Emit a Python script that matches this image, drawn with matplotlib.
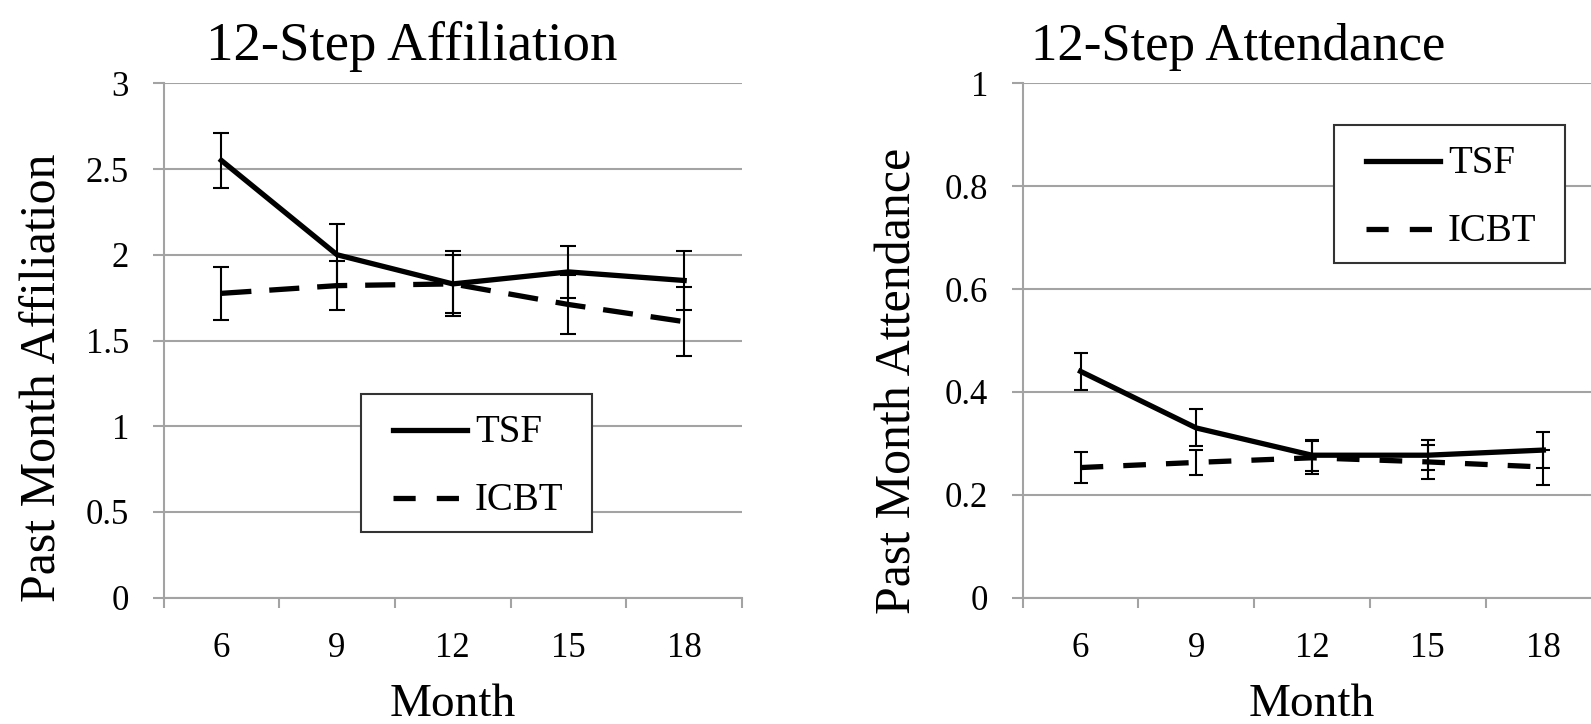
import matplotlib
matplotlib.use('Agg')
import numpy as np
import matplotlib.pyplot as plt
from matplotlib.lines import Line2D
from matplotlib.patches import Rectangle
from matplotlib.ticker import FixedLocator, NullFormatter

plt.rcParams['font.family'] = ['Liberation Serif', 'DejaVu Serif']

# data (month of follow-up)
months = ['6', '9', '12', '15', '18']

aff_tsf = [2.55, 2.00, 1.83, 1.90, 1.85]
aff_tsf_err = [0.16, 0.18, 0.17, 0.15, 0.17]
aff_icbt = [1.775, 1.82, 1.83, 1.71, 1.61]
aff_icbt_err = [0.155, 0.145, 0.19, 0.17, 0.20]

att_tsf = [0.44, 0.33, 0.277, 0.277, 0.287]
att_tsf_err = [0.036, 0.036, 0.030, 0.029, 0.035]
att_icbt = [0.253, 0.263, 0.272, 0.264, 0.254]
att_icbt_err = [0.030, 0.025, 0.032, 0.033, 0.034]

aff_ticks = [0, 0.5, 1, 1.5, 2, 2.5, 3]
aff_ticklabels = ['0', '0.5', '1', '1.5', '2', '2.5', '3']
att_ticks = [0, 0.2, 0.4, 0.6, 0.8, 1]
att_ticklabels = ['0', '0.2', '0.4', '0.6', '0.8', '1']

W, H = 1591, 724
grid_c = '#a3a3a3'
lw_line = 3.8

fig = plt.figure(figsize=(W / 100, H / 100), dpi=100)


def px(x, y):
    # pixel position (top-left origin) -> figure fraction
    return x / W, 1 - y / H


def draw_key(x0, y0):
    # boxed key like the Excel one
    fig.add_artist(Rectangle(px(x0, y0 + 138), 231 / W, 138 / H, transform=fig.transFigure,
                             facecolor='white', edgecolor='#333333', lw=1.5, zorder=5))
    rows = [('TSF', '-', 36), ('ICBT', (0, (4.2, 4.0)), 104)]
    for lab, ls, dy in rows:
        yy = y0 + dy
        fig.add_artist(Line2D([(x0 + 32) / W, (x0 + 106) / W], [1 - yy / H] * 2,
                              transform=fig.transFigure, color='k', lw=lw_line, ls=ls, zorder=6))
        fig.text((x0 + 114) / W, 1 - (yy + 12) / H, lab, fontsize=28, va='baseline', zorder=6)


panels = [
    dict(left=163.5, title='12-Step Affiliation', title_x=412, title_fs=39.5,
         ylabel='Past Month Affiliation',
         tsf=aff_tsf, tsf_err=aff_tsf_err, icbt=aff_icbt, icbt_err=aff_icbt_err,
         ylim=(0, 3), ticks=aff_ticks, ticklabels=aff_ticklabels, cap=6.1,
         dash=(5.7, 3.4), ylab_xy=(-0.208, 0.427), key=(361, 394)),
    dict(left=1022.7, title='12-Step Attendance', title_x=1238, title_fs=38,
         ylabel='Past Month Attendance',
         tsf=att_tsf, tsf_err=att_tsf_err, icbt=att_icbt, icbt_err=att_icbt_err,
         ylim=(0, 1), ticks=att_ticks, ticklabels=att_ticklabels, cap=4.7,
         dash=(4.3, 3.8), ylab_xy=(-0.2156, 0.421), key=(1334, 125)),
]

top, bottom, width = 83.3, 597.7, 578.5

for p in panels:
    ax = fig.add_axes([p['left'] / W, 1 - bottom / H, width / W, (bottom - top) / H])
    x = np.arange(len(months))

    ax.errorbar(x, p['tsf'], yerr=p['tsf_err'], fmt='none', ecolor='k',
                elinewidth=1.5, capsize=p['cap'], capthick=1.5, zorder=3)
    ax.errorbar(x, p['icbt'], yerr=p['icbt_err'], fmt='none', ecolor='k',
                elinewidth=1.5, capsize=p['cap'], capthick=1.5, zorder=3)
    ax.plot(x, p['tsf'], color='k', lw=lw_line, zorder=4)
    ax.plot(x, p['icbt'], color='k', lw=lw_line, ls=(0, p['dash']), zorder=4)

    ax.set_xlim(-0.5, len(months) - 0.5)
    ax.set_ylim(*p['ylim'])
    ax.set_yticks(p['ticks'])
    ax.set_yticklabels(p['ticklabels'])

    # tick marks between categories, labels at the category centres
    ax.xaxis.set_major_locator(FixedLocator(np.arange(-0.5, len(months), 1)))
    ax.xaxis.set_major_formatter(NullFormatter())
    ax.set_xticks(x, minor=True)
    ax.set_xticklabels(months, minor=True)
    ax.tick_params(axis='x', which='major', length=7.2, width=1.5, color=grid_c, direction='out')
    ax.tick_params(axis='x', which='minor', length=0, pad=24.8, labelsize=25)
    ax.tick_params(axis='y', length=7.9, width=1.5, color=grid_c, pad=17, labelsize=25)

    ax.grid(axis='y', color=grid_c, lw=1.5)
    ax.set_axisbelow(True)
    for s in ['top', 'right']:
        ax.spines[s].set_visible(False)
    for s in ['left', 'bottom']:
        ax.spines[s].set_color(grid_c)
        ax.spines[s].set_linewidth(1.5)

    ax.set_ylabel(p['ylabel'], fontsize=36, va='center')
    ax.yaxis.set_label_coords(*p['ylab_xy'])
    ax.set_xlabel('Month', fontsize=34, va='baseline')
    ax.xaxis.set_label_coords(0.5, -0.23)

    tx, ty = px(p['title_x'], 60)
    fig.text(tx, ty, p['title'], fontsize=p['title_fs'], ha='center', va='baseline')

    draw_key(*p['key'])

fig.savefig('out.png', dpi=100)
